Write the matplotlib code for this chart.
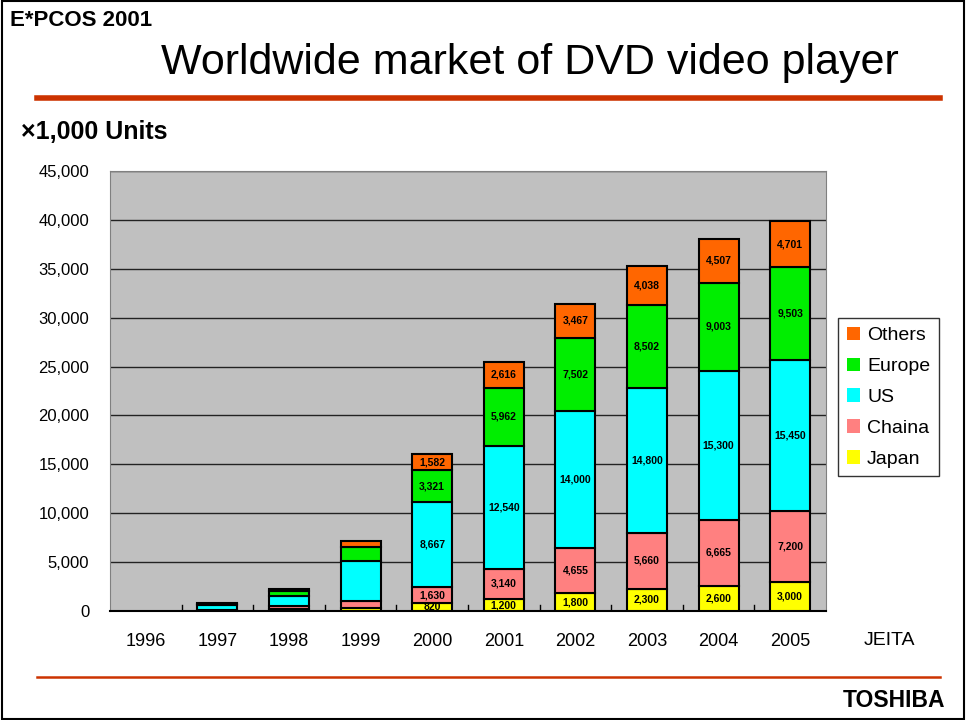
import matplotlib.pyplot as plt
import numpy as np

# data (x1,000 units)
years = ['1996', '1997', '1998', '1999', '2000', '2001', '2002', '2003', '2004', '2005']
japan  = [0,  50,  200,  300,  820, 1200,  1800,  2300,  2600,  3000]
china  = [0,  50,  300,  700, 1630, 3140,  4655,  5660,  6665,  7200]
us     = [0, 500, 1000, 4100, 8667, 12540, 14000, 14800, 15300, 15450]
europe = [0, 150,  500, 1400, 3321, 5962,  7502,  8502,  9003,  9503]
others = [0, 100,  200,  650, 1582, 2616,  3467,  4038,  4507,  4701]
labelled_from = 4  # value labels only shown from 2000 on

series = [('Japan', japan, '#ffff00'),
          ('Chaina', china, '#ff8080'),
          ('US', us, '#00ffff'),
          ('Europe', europe, '#00ee00'),
          ('Others', others, '#ff6600')]

plt.rcParams['font.family'] = ['Liberation Sans', 'DejaVu Sans']

fig = plt.figure(figsize=(9.66, 7.2), dpi=100)

# frame round the slide
fig.add_artist(plt.Rectangle((0.002, 0.002), 0.996, 0.996, transform=fig.transFigure,
                             fill=False, edgecolor='black', linewidth=1.5))
# red rules
fig.add_artist(plt.Line2D([0.038, 0.973], [1 - 98 / 720] * 2, transform=fig.transFigure,
                          color='#cc3300', linewidth=4))
fig.add_artist(plt.Line2D([0.038, 0.973], [1 - 677 / 720] * 2, transform=fig.transFigure,
                          color='#cc3300', linewidth=1.8))

fig.text(0.010, 0.972, 'E*PCOS 2001', fontsize=16, fontweight='bold', va='center')
fig.text(0.549, 0.913, 'Worldwide market of DVD video player', fontsize=31, ha='center', va='center')
fig.text(0.022, 0.817, '\u00d71,000 Units', fontsize=18, fontweight='bold', va='center')
fig.text(0.979, 0.027, 'TOSHIBA', fontsize=16.5, fontweight='bold', ha='right', va='center')
fig.text(0.921, 0.111, 'JEITA', fontsize=14, ha='center', va='center')

ax = fig.add_axes([110 / 966, 1 - 611 / 720, 716 / 966, 440 / 720])
ax.set_facecolor('#c0c0c0')

x = np.arange(len(years))
bottom = np.zeros(len(years))
handles = []
for name, vals, col in series:
    vals = np.array(vals, dtype=float)
    lw = [1.5 if v > 0 else 0 for v in vals]
    b = ax.bar(x, vals, 0.56, bottom=bottom, color=col, edgecolor='black',
               linewidth=lw, label=name, zorder=3)
    handles.append(b)
    for i in range(labelled_from, len(years)):
        ax.text(x[i], bottom[i] + vals[i] / 2, f'{int(vals[i]):,}', ha='center', va='center',
                fontsize=7.5, fontweight='bold', zorder=4)
    bottom += vals

ax.set_xlim(-0.5, len(years) - 0.5)
ax.set_ylim(0, 45000)
ax.set_yticks(np.arange(0, 45001, 5000))
ax.set_yticklabels([f'{v:,}' for v in range(0, 45001, 5000)], fontsize=12)
ax.yaxis.grid(True, color='#222222', linewidth=1, zorder=1)
ax.tick_params(axis='y', length=0, pad=15)

ax.set_xticks(x)
ax.set_xticklabels(years, fontsize=13)
ax.tick_params(axis='x', length=0, pad=16)
# small inward marks between categories
for xb in np.arange(0.5, len(years) - 1, 1.0):
    ax.plot([xb, xb], [0, 600], color='black', linewidth=1, zorder=2)

for s in ['top', 'right', 'left']:
    ax.spines[s].set_color('#808080')
ax.spines['bottom'].set_color('black')
ax.spines['bottom'].set_linewidth(1.5)

leg = ax.legend(handles[::-1], [s[0] for s in series][::-1], loc='upper left',
                bbox_to_anchor=(838 / 966, 1 - 318 / 720), bbox_transform=fig.transFigure,
                borderaxespad=0, fontsize=14, frameon=True, fancybox=False, edgecolor='black',
                handlelength=0.7, handleheight=0.7, handletextpad=0.35,
                labelspacing=0.68, borderpad=0.45)
leg.get_frame().set_linewidth(1)

fig.savefig('out.png', dpi=100)
